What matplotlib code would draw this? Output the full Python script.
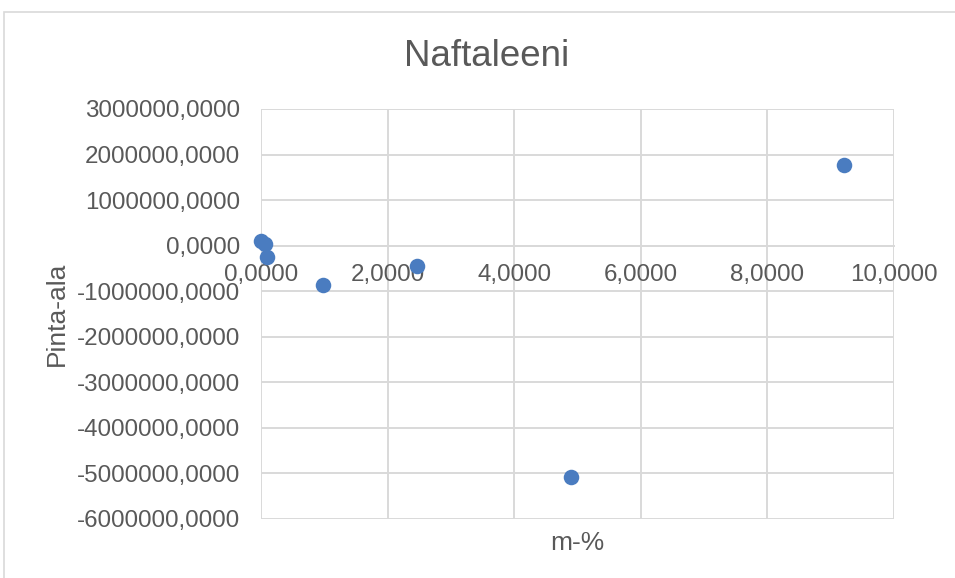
import matplotlib
matplotlib.use("Agg")
import matplotlib.pyplot as plt
from matplotlib.ticker import FuncFormatter, MultipleLocator
from matplotlib.patches import Rectangle

# Naphthalene calibration: mass percent vs. peak area
mass_percent = [0.00, 0.06, 0.09, 0.98, 2.46, 4.89, 9.21]
peak_area = [100000, 30000, -250000, -860000, -440000, -5085000, 1770000]

title = "Naftaleeni"
x_label = "m-%"
y_label = "Pinta-ala"

plt.rcParams["font.family"] = ["Liberation Sans", "DejaVu Sans"]
text_color = "#595959"
grid_color = "#D9D9D9"

W, H = 955, 578
fig = plt.figure(figsize=(W / 100, H / 100), dpi=100)
ax = fig.add_axes([261 / W, 1 - 519 / H, (894 - 261) / W, (519 - 109) / H])

ax.scatter(mass_percent, peak_area, s=125, color="#4A7CC0", zorder=3,
           linewidths=0, clip_on=False)

ax.set_xlim(0, 10)
ax.set_ylim(-6000000, 3000000)
ax.xaxis.set_major_locator(MultipleLocator(2))
ax.yaxis.set_major_locator(MultipleLocator(1000000))

fmt = FuncFormatter(lambda v, _: f"{v:.4f}".replace(".", ","))
ax.xaxis.set_major_formatter(fmt)
ax.yaxis.set_major_formatter(fmt)

ax.grid(True, color=grid_color, linewidth=1.4, zorder=0)
for side in ("top", "right", "left"):
    ax.spines[side].set_visible(False)
ax.spines["bottom"].set_position(("data", 0))
ax.spines["bottom"].set_color(grid_color)
ax.spines["bottom"].set_linewidth(1.4)

ax.tick_params(axis="both", length=0, labelsize=17.4, colors=text_color)
ax.tick_params(axis="x", pad=13)
ax.tick_params(axis="y", pad=15)

fig.text(486.5 / W, 1 - 56 / H, title, ha="center", va="center",
         fontsize=26.5, color=text_color)
fig.text(577 / W, 1 - 543 / H, x_label, ha="center", va="center",
         fontsize=19, color=text_color)
fig.text(57 / W, 1 - 314 / H, y_label, ha="center", va="center",
         fontsize=19, color=text_color, rotation=90)

# chart area frame
fig.patches.append(Rectangle((3.5 / W, -0.1), 2, (H - 12.5) / H + 0.1,
                             transform=fig.transFigure, fill=False,
                             edgecolor=grid_color, linewidth=1.2))

fig.savefig("out.png", dpi=100)
